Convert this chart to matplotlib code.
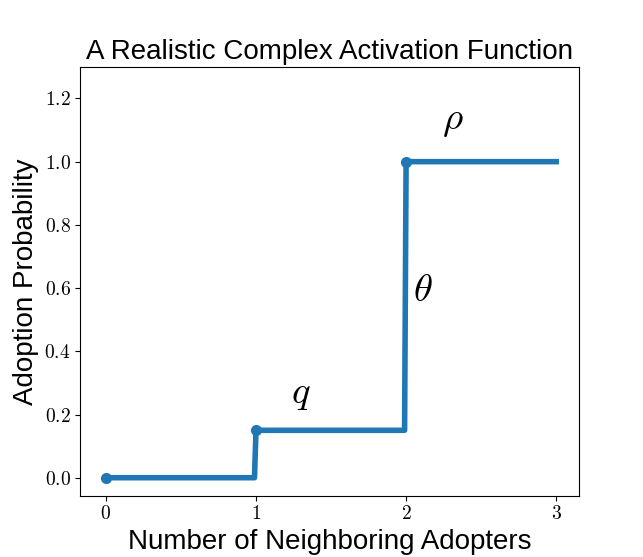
import matplotlib
matplotlib.use("Agg")
from matplotlib import pyplot as plt
from matplotlib.ticker import FuncFormatter

plt.rcParams['font.family'] = ['Liberation Sans', 'DejaVu Sans']
plt.rcParams['mathtext.fontset'] = 'cm'

# step-shaped activation curve
x = [0, 0.99, 1, 1.99, 2, 3]
y = [0, 0, 0.15, 0.15, 1, 1]
# dots at the activation points
dot_x = [0, 1, 2]
dot_y = [0, 0.15, 1]
xticks = [0, 1, 2, 3]
yticks = [0.0, 0.2, 0.4, 0.6, 0.8, 1.0, 1.2]

fig, ax = plt.subplots(figsize=(6.43, 5.57), dpi=100)
ax.plot(x, y, color='#1f77b4', lw=4)
ax.plot(dot_x, dot_y, 'o', color='#1f77b4', ms=7)

ax.text(1.3, 0.265, r'$q$', fontsize=28, ha='center', va='center')
ax.text(2.11, 0.59, r'$\theta$', fontsize=28, ha='center', va='center')
ax.text(2.31, 1.13, r'$\rho$', fontsize=28, ha='center', va='center')

ax.set_xlim(-0.17, 3.15)
ax.set_ylim(-0.057, 1.3)
ax.set_xticks(xticks)
ax.set_yticks(yticks)
ax.xaxis.set_major_formatter(FuncFormatter(lambda v, p: r'$%d$' % v))
ax.yaxis.set_major_formatter(FuncFormatter(lambda v, p: r'$%.1f$' % v))
ax.tick_params(labelsize=14)

ax.set_title("A Realistic Complex Activation Function", fontsize=20)
ax.set_xlabel("Number of Neighboring Adopters", fontsize=20)
ax.set_ylabel("Adoption Probability", fontsize=20)

fig.savefig("out.png", dpi=100)
